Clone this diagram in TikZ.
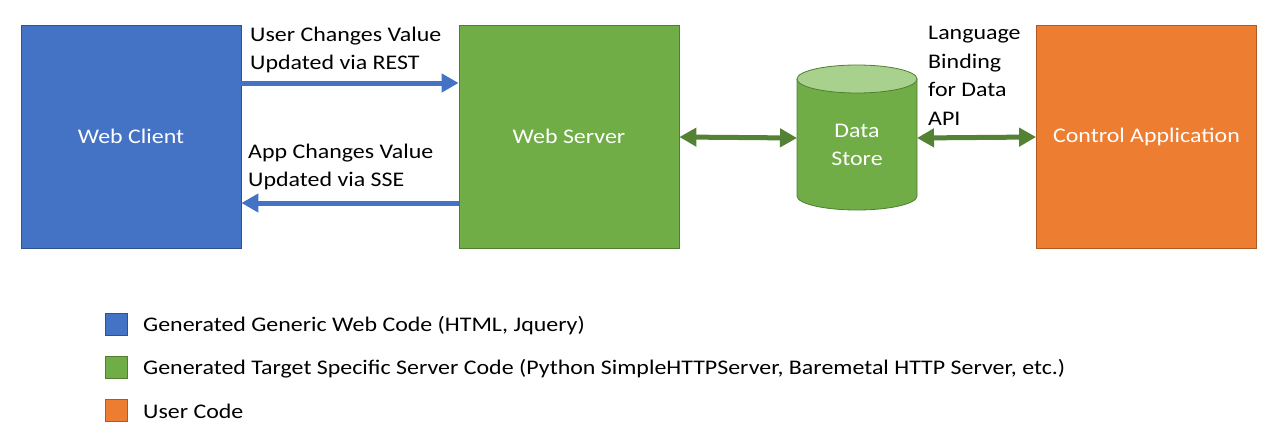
\documentclass[tikz,border=0pt]{standalone}
\usepackage{fontspec}
\setmainfont[FakeStretch=1.15]{Carlito}
\usetikzlibrary{arrows.meta}
\definecolor{cblue}{HTML}{4472C4}
\definecolor{cblueb}{HTML}{2F528F}
\definecolor{cgreen}{HTML}{70AD47}
\definecolor{cgreenb}{HTML}{507E32}
\definecolor{cgreenl}{HTML}{A9D18E}
\definecolor{carrowg}{HTML}{548235}
\definecolor{corange}{HTML}{ED7D31}
\definecolor{coranb}{HTML}{AE5A21}
\begin{document}
\begin{tikzpicture}[x=1pt,y=-1pt,
  font=\fontsize{20.8}{28.5}\selectfont,
  bigbox/.style={draw, line width=0.8pt, minimum width=220pt, minimum height=223pt, inner sep=0pt, text=white},
  lbl/.style={inner sep=0pt, anchor=west, align=left},
  legsq/.style={draw, line width=0.8pt, minimum size=22pt, inner sep=0pt},
  bluearrow/.style={draw=cblue, line width=5pt, -{Triangle[length=17pt,width=18pt]}},
  greenarrow/.style={draw=carrowg, line width=5pt, {Triangle[length=17pt,width=18pt]}-{Triangle[length=17pt,width=18pt]}}]
\useasboundingbox[fill=white] (0,0) rectangle (1286,447);

\node[bigbox, fill=cblue, draw=cblueb] (wc) at (131,136.5) {Web Client};
\node[bigbox, fill=cgreen, draw=cgreenb] (ws) at (569,136.5) {Web Server};
\node[bigbox, fill=corange, draw=coranb] (ca) at (1146.5,136.5) {Control Application};

% data store cylinder
\node[minimum width=120pt, minimum height=145pt, inner sep=0pt, outer sep=0pt] (ds) at (857,137.5) {};
\path[fill=cgreen, draw=cgreenb, line width=0.8pt]
  ([yshift=-14pt]ds.north west) -- ([yshift=14pt]ds.south west)
  arc[start angle=180, end angle=360, x radius=60pt, y radius=14pt]
  -- ([yshift=-14pt]ds.north east) -- cycle;
\draw[fill=cgreenl, draw=cgreenb, line width=0.8pt] ([yshift=-14pt]ds.north) ellipse[x radius=60pt, y radius=14pt];
\node[inner sep=0pt, align=center, text=white] (dsl) at (857,145) {Data\\Store};

% connectors
\draw[bluearrow] ([yshift=53.5pt]wc.east) -- ([yshift=53.5pt]ws.west);
\draw[bluearrow] ([yshift=-66.5pt]ws.west) -- ([yshift=-66.5pt]wc.east);
\draw[greenarrow] ([yshift=-0.5pt]ws.east) -- ([yshift=-0.5pt]ds.west);
\draw[greenarrow] ([yshift=-0.5pt]ds.east) -- ([yshift=-0.5pt]ca.west);

% labels
\node[lbl] (l1) at (250,50) {User Changes Value\\Updated via REST};
\node[lbl] (l2) at (248,167) {App Changes Value\\Updated via SSE};
\node[lbl] (l3) at (928,76) {Language\\Binding\\for Data\\API};

% legend
\node[legsq, fill=cblue, draw=cblueb] (k1) at (116,324.5) {};
\node[legsq, fill=cgreen, draw=cgreenb] (k2) at (116,367.5) {};
\node[legsq, fill=corange, draw=coranb] (k3) at (116,410) {};
\node[lbl] (t1) at (143,326) {Generated Generic Web Code (HTML, Jquery)};
\node[lbl] (t2) at (143,369) {Generated Target Specific Server Code (Python SimpleHTTPServer, Baremetal HTTP Server, etc.)};
\node[lbl] (t3) at (143,411) {User Code};
\end{tikzpicture}
\end{document}
